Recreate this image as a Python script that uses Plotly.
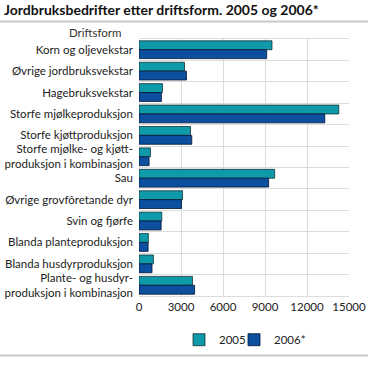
import plotly.graph_objects as go

categories = [
    "Korn og oljevekstar",
    "Øvrige jordbruksvekstar",
    "Hagebruksvekstar",
    "Storfe mjølkeproduksjon",
    "Storfe kjøttproduksjon",
    "Storfe mjølke- og kjøtt-<br>produksjon i kombinasjon",
    "Sau",
    "Øvrige grovfôretande dyr",
    "Svin og fjørfe",
    "Blanda planteproduksjon",
    "Blanda husdyrproduksjon",
    "Plante- og husdyr-<br>produksjon i kombinasjon",
]
v2005 = [9500, 3250, 1680, 14270, 3680, 820, 9690, 3110, 1630, 670, 1030, 3820]
v2006 = [9120, 3390, 1600, 13270, 3770, 720, 9260, 3040, 1580, 650, 930, 3970]
xticks = [0, 3000, 6000, 9000, 12000, 15000]

pos = list(range(len(categories)))
font = "Lato, Open Sans, sans-serif"
L, R, T, B = 139, 19, 39, 63
PW, PH = 368 - L - R, 366 - T - B

fig = go.Figure()
fig.add_trace(go.Bar(name="2005", y=pos, x=v2005, orientation="h", legend="legend",
                     marker=dict(color="#0e9aa9", line=dict(color="rgba(20,40,50,0.75)", width=1))))
fig.add_trace(go.Bar(name="2006*", y=pos, x=v2006, orientation="h", legend="legend2",
                     marker=dict(color="#0b4f9e", line=dict(color="rgba(5,20,50,0.8)", width=1))))

leg_common = dict(orientation="h", yanchor="top", xanchor="left",
                  font=dict(size=11.5, color="#222"), itemwidth=30, bgcolor="rgba(0,0,0,0)")
leg_y = -(333 - T - PH) / PH
fig.update_layout(
    width=368, height=366,
    margin=dict(l=L, r=R, t=T, b=B),
    paper_bgcolor="white", plot_bgcolor="white",
    barmode="group", bargap=0.17, bargroupgap=0,
    font=dict(family=font, size=11.5, color="#222"),
    showlegend=True,
    legend=dict(x=(179 - L) / PW, y=leg_y, **leg_common),
    legend2=dict(x=(234 - L) / PW, y=leg_y, **leg_common),
    title=dict(text="<b>Jordbruksbedrifter etter driftsform. 2005 og 2006*</b>",
               x=4 / 368, xanchor="left", y=1 - 10 / 366, yanchor="middle",
               font=dict(family=font, size=14, color="#111")),
)
fig.update_xaxes(range=[0, 15000], tickvals=xticks, ticktext=[str(t) for t in xticks],
                 showgrid=True, gridcolor="#dcdcdc", gridwidth=1, zeroline=False,
                 showline=True, mirror=True, linecolor="#dcdcdc", linewidth=1,
                 ticks="", tickfont=dict(size=11.5, color="#222"), automargin=False)
fig.update_yaxes(range=[11.5, -0.5], tickvals=pos, ticktext=categories,
                 showgrid=False, zeroline=False, ticks="",
                 showline=False, automargin=False,
                 minor=dict(tick0=0.5, dtick=1, showgrid=True, gridcolor="#dcdcdc", gridwidth=1, ticks=""),
                 tickfont=dict(size=11.5, color="#222"), ticklabelstandoff=5)

fig.add_annotation(text="Driftsform", xref="paper", yref="paper", x=-(L - 123) / PW, y=1 + 7 / PH,
                   xanchor="right", yanchor="middle", showarrow=False,
                   font=dict(size=11.5, color="#333"))
fig.add_shape(type="line", xref="paper", yref="paper", x0=-L / PW, x1=1 + R / PW,
              y0=1 + 18 / PH, y1=1 + 18 / PH, line=dict(color="#c8c8c8", width=2))
fig.add_shape(type="line", xref="paper", yref="paper", x0=-L / PW, x1=1 + R / PW,
              y0=-61 / PH, y1=-61 / PH, line=dict(color="#c8c8c8", width=2))

fig.write_html("out.html", config={"displayModeBar": False},
               post_script="document.body.style.margin='0';document.body.style.padding='0';")
